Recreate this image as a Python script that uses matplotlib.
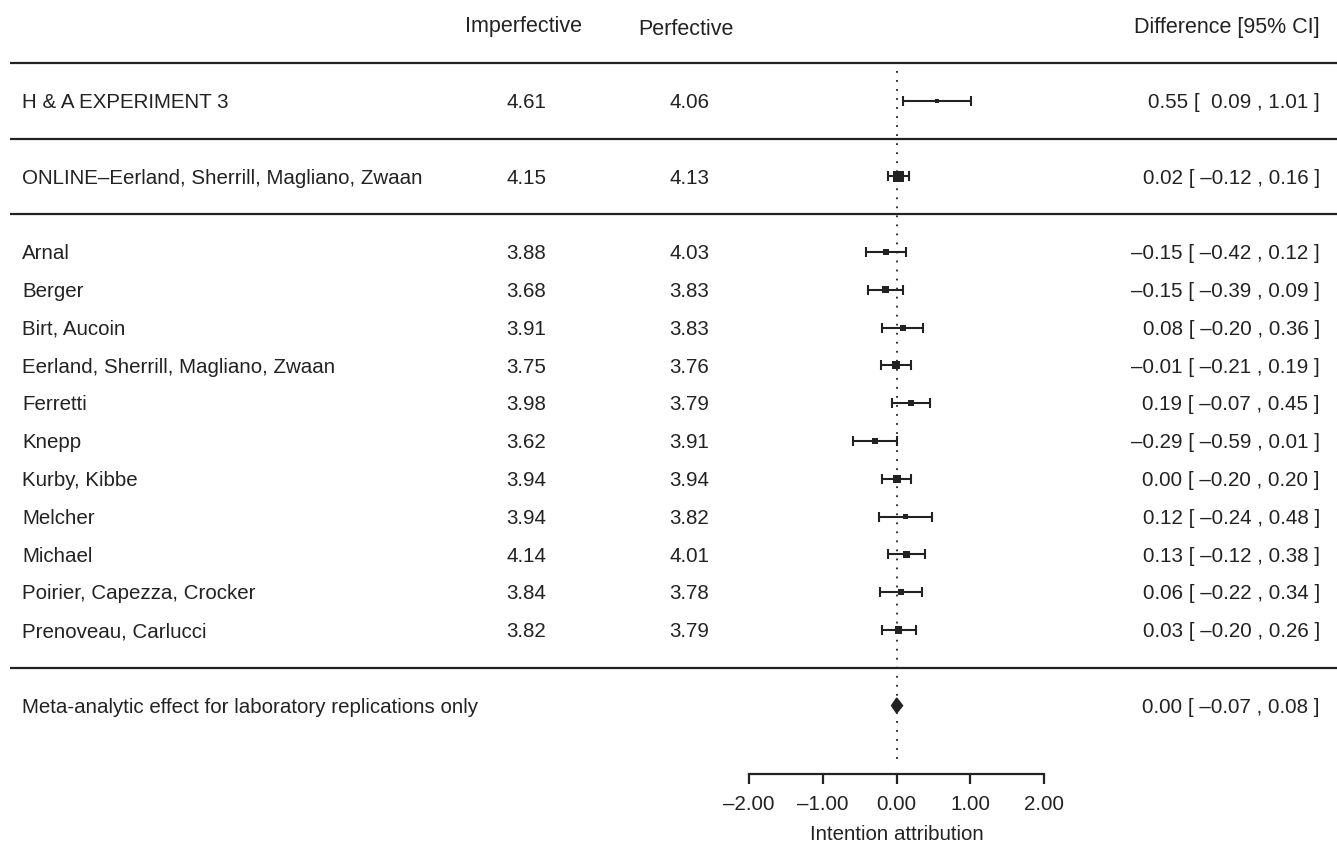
import numpy as np
import matplotlib
matplotlib.use("Agg")
import matplotlib.pyplot as plt
from matplotlib.patches import Polygon

plt.rcParams['font.family'] = ['Liberation Sans', 'DejaVu Sans']

# data
studies = ["H & A EXPERIMENT 3",
           "ONLINE\u2013Eerland, Sherrill, Magliano, Zwaan",
           "Arnal", "Berger", "Birt, Aucoin",
           "Eerland, Sherrill, Magliano, Zwaan", "Ferretti", "Knepp",
           "Kurby, Kibbe", "Melcher", "Michael",
           "Poirier, Capezza, Crocker", "Prenoveau, Carlucci"]
rows = [1, 3, 5, 6, 7, 8, 9, 10, 11, 12, 13, 14, 15]
imperfective = [4.61, 4.15, 3.88, 3.68, 3.91, 3.75, 3.98, 3.62, 3.94, 3.94, 4.14, 3.84, 3.82]
perfective = [4.06, 4.13, 4.03, 3.83, 3.83, 3.76, 3.79, 3.91, 3.94, 3.82, 4.01, 3.78, 3.79]
diff = [0.55, 0.02, -0.15, -0.15, 0.08, -0.01, 0.19, -0.29, 0.00, 0.12, 0.13, 0.06, 0.03]
ci_low = [0.09, -0.12, -0.42, -0.39, -0.20, -0.21, -0.07, -0.59, -0.20, -0.24, -0.12, -0.22, -0.20]
ci_high = [1.01, 0.16, 0.12, 0.09, 0.36, 0.19, 0.45, 0.01, 0.20, 0.48, 0.38, 0.34, 0.26]

meta_label = "Meta-analytic effect for laboratory replications only"
meta_row = 17
meta_est, meta_low, meta_high = 0.00, -0.07, 0.08

sep_rows = [0, 2, 4, 16]
xticks = [-2, -1, 0, 1, 2]


def fmt(v):
    return ("\u2013" if v < 0 else "") + f"{abs(v):.2f}"


def fmt_ci(e, lo, hi):
    lo_s = fmt(lo) if lo < 0 else " " + fmt(lo)
    return f"{fmt(e)} [ {lo_s} , {fmt(hi)} ]"


fig = plt.figure(figsize=(13.37, 8.52), dpi=100)
ax = fig.add_axes([0, 0, 1, 1])

# pixel -> data helpers (x: 0 at px 896.7, 73.75 px/unit; y: row 0 at px 63, 37.8 px/row)
def px_x(p):
    return (p - 896.7) / 73.75

ax.set_xlim(px_x(0), px_x(1337))
ax.set_ylim((852 - 63) / 37.8, -63 / 37.8)

ink = "#222222"
fs = 14.8
fs_head = 15.5

# separators and reference line
ax.hlines(sep_rows, px_x(10), px_x(1337), color=ink, lw=1.6)
ax.vlines(0, 0.2, 18.6, color=ink, lw=1.3, linestyles=(0, (1, 4)))

# study estimates
diff_a = np.array(diff)
lo_a = np.array(ci_low)
hi_a = np.array(ci_high)
ax.errorbar(diff_a, rows, xerr=[diff_a - lo_a, hi_a - diff_a], fmt="none",
            ecolor=ink, elinewidth=1.5, capsize=3.8, capthick=1.5)
prec = 1 / (hi_a - lo_a)
side_px = 4 + (prec - prec.min()) / (prec.max() - prec.min()) * 7
ax.scatter(diff_a, rows, marker="s", s=(side_px * 0.72) ** 2, color=ink,
           linewidths=0, zorder=3)

# summary diamond
ax.add_patch(Polygon([(meta_low, meta_row), (meta_est, meta_row - 0.2),
                      (meta_high, meta_row), (meta_est, meta_row + 0.2)],
                     closed=True, color=ink, zorder=3))

# text columns
off = 0.19
for r, name, a, b, d, lo, hi in zip(rows, studies, imperfective, perfective, diff, ci_low, ci_high):
    ax.text(px_x(22), r + off, name, ha="left", va="baseline", fontsize=fs, color=ink)
    ax.text(px_x(526), r + off, f"{a:.2f}", ha="center", va="baseline", fontsize=fs, color=ink)
    ax.text(px_x(689), r + off, f"{b:.2f}", ha="center", va="baseline", fontsize=fs, color=ink)
    ax.text(px_x(1320), r + off, fmt_ci(d, lo, hi), ha="right", va="baseline", fontsize=fs, color=ink)
ax.text(px_x(22), meta_row + off, meta_label, ha="left", va="baseline", fontsize=fs, color=ink)
ax.text(px_x(1320), meta_row + off, fmt_ci(meta_est, meta_low, meta_high),
        ha="right", va="baseline", fontsize=fs, color=ink)

# headers
ax.text(px_x(523), -0.81, "Imperfective", ha="center", va="baseline", fontsize=fs_head, color=ink)
ax.text(px_x(686), -0.74, "Perfective", ha="center", va="baseline", fontsize=fs_head, color=ink)
ax.text(px_x(1320), -0.79, "Difference [95% CI]", ha="right", va="baseline", fontsize=fs_head, color=ink)

# x axis
for s in ["top", "left", "right"]:
    ax.spines[s].set_visible(False)
ax.spines["bottom"].set_position(("data", 18.8))
ax.spines["bottom"].set_bounds(-2, 2)
ax.spines["bottom"].set_color(ink)
ax.spines["bottom"].set_linewidth(1.6)
ax.set_xticks(xticks)
ax.set_xticklabels([fmt(t) for t in xticks])
ax.tick_params(axis="x", direction="out", length=7.5, width=1.6, color=ink,
               labelsize=fs, labelcolor=ink, pad=8)
ax.tick_params(axis="y", left=False, labelleft=False)
ax.set_xlabel("Intention attribution", fontsize=fs, color=ink)
ax.xaxis.set_label_coords(0, 20.15, transform=ax.transData)

fig.savefig("out.png", dpi=100)
